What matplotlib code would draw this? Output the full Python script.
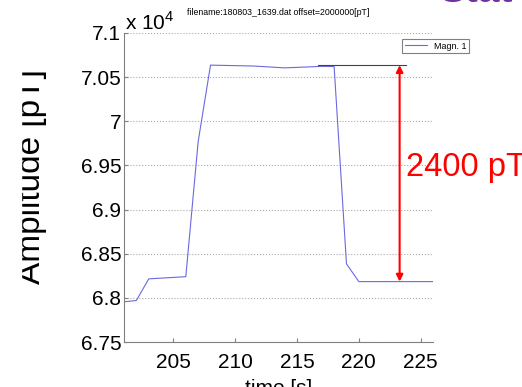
import numpy as np
import matplotlib
matplotlib.use("Agg")
import matplotlib.pyplot as plt
from matplotlib.ticker import FuncFormatter, MultipleLocator
from matplotlib.patches import Rectangle

plt.rcParams['font.family'] = ['Liberation Sans', 'DejaVu Sans']
plt.rcParams['mathtext.fontset'] = 'custom'
plt.rcParams['mathtext.rm'] = 'Liberation Sans'

time_s = [201, 202, 203, 206, 207, 208, 211.5, 214, 217, 218, 219, 220, 226]
field_pT = [67955, 67970, 68215, 68240, 69770, 70636, 70626, 70605,
            70622, 70620, 68385, 68184, 68184]

level_high = 70636
level_low = 68184
marker_t = 223.3
step_label = "2400 pT"
title_txt = "filename:180803_1639.dat offset=2000000[pT]"

fig = plt.figure(figsize=(5.22, 3.87), dpi=100)
ax = fig.add_axes([124/522, 45/387, 309/522, 309/387])

ax.plot(time_s, field_pT, color='#6a6ae0', lw=0.8, label='Magn. 1')

# reference line and arrow for the step size
ax.plot([216.7, 223.8], [level_high, level_high], color='#444444', lw=0.8)
ax.annotate('', xy=(marker_t, level_low), xytext=(marker_t, level_high),
            arrowprops=dict(arrowstyle='<|-|>', color='red', lw=1.5,
                            mutation_scale=10, shrinkA=0, shrinkB=0))
ax.text(223.8, 69480, step_label, color='red', fontsize=23.5,
        va='center', ha='left', clip_on=False)

ax.set_xlim(201, 226)
ax.set_ylim(67500, 71000)
ax.set_xticks([205, 210, 215, 220, 225])
ax.yaxis.set_major_locator(MultipleLocator(500))
ax.yaxis.set_major_formatter(FuncFormatter(lambda v, p: '%g' % (v / 1e4)))
ax.tick_params(labelsize=15, direction='in', length=3, color='#808080', pad=2)
ax.tick_params(axis='x', pad=8)
ax.grid(axis='y', linestyle=':', color='#aaaaaa', lw=0.8)
for s in ['top', 'right']:
    ax.spines[s].set_visible(False)
for s in ['left', 'bottom']:
    ax.spines[s].set_color('#808080')

ax.set_xlabel('time [s]', fontsize=15, labelpad=5)
ax.set_ylabel('Amplitude [pT]', fontsize=24)
ax.yaxis.set_label_coords(-0.25, 0.535)
ax.set_title(title_txt, fontsize=6.3, pad=13)

fig.text(125/522, 1 - 30/387, r'x 10$^{4}$', fontsize=15, va='baseline', ha='left')

leg = ax.legend(loc='upper right', bbox_to_anchor=(1.117, 0.981), fontsize=6.4,
                fancybox=False, framealpha=1, edgecolor='#808080',
                borderpad=0.3, handlelength=2.5, borderaxespad=0)
leg.get_frame().set_linewidth(0.8)

# purple heading from the slide, cut by the top edge
fig.text(440/522, 1 - 1.5/387, 'Stat', color='#7030a0', fontsize=28,
         fontweight='bold', va='baseline', ha='left')

# white strip of the slide covering the label edge
fig.patches.append(Rectangle((0, 0), 21/522, 1, transform=fig.transFigure,
                             color='white', zorder=10))

fig.savefig('out.png', dpi=100)
